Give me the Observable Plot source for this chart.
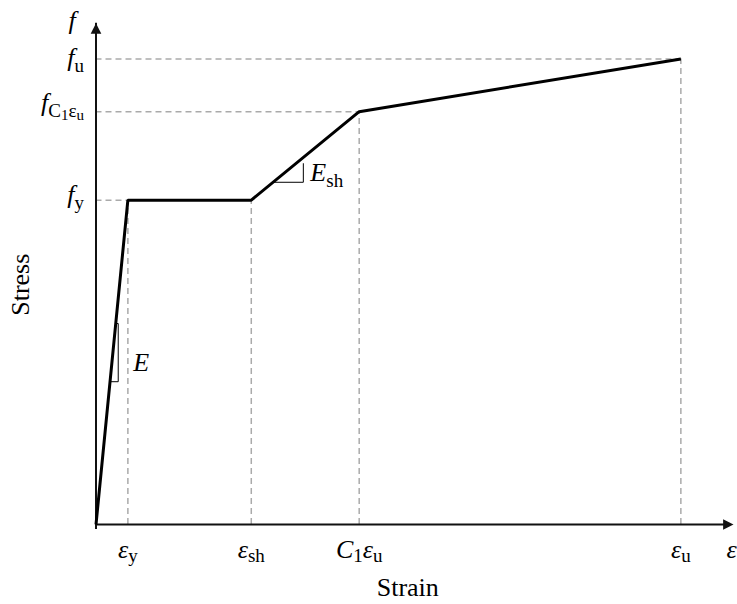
<!DOCTYPE html>
<html><head><meta charset="utf-8">
<script src="https://cdn.jsdelivr.net/npm/d3@7"></script>
<script src="https://cdn.jsdelivr.net/npm/@observablehq/plot@0.6"></script>
<style>body{margin:0;background:#fff} svg{display:block}</style>
</head><body><div id="chart"></div>
<script>
// Key points of the stress-strain curve (arbitrary units)
const pointStrain = [0, 0.0109, 0.0531, 0.090, 0.200];
const pointStress = [0, 418, 418, 532, 600];
// Ticks on the strain axis (index into the key points) and their labels
const strainTickIndex = [1, 2, 3, 4];
const strainTickLabels = ["εy", "εsh", "C1εu", "εu"];
// Ticks on the stress axis
const stressTickIndex = [1, 3, 4];
const stressTickLabels = ["fy", "fC1εu", "fu"];
// Axis extents
const strainMax = 0.218;
const stressMax = 646;
// Slope indicators
const eTriangle = {strain: 0.0076, stressLow: 184, stressHigh: 259};
const eshTriangle = {strain: 0.0709, stressLow: 441, stressHigh: 465};
const slopeLabels = [
  {strain: 0.0127, stress: 208, text: "E"},
  {strain: 0.0733, stress: 454, text: "Esh"}
];
const axisTitles = {x: "Strain", y: "Stress", xSym: "ε", ySym: "f"};

// rich text parts: [text, italic, level]
const rich = {
  "εy": [["ε",1,0],["y",0,1]],
  "εsh": [["ε",1,0],["sh",0,1]],
  "C1εu": [["C",1,0],["1",0,1],["ε",1,0],["u",0,1]],
  "εu": [["ε",1,0],["u",0,1]],
  "fy": [["f",1,0],["y",0,3]],
  "fC1εu": [["f",1,0],["C",0,3],["1",0,4],["ε",0,3],["u",0,4]],
  "fu": [["f",1,0],["u",0,3]],
  "E": [["E",1,0]],
  "Esh": [["E",1,0],["sh",0,3]],
  "ε": [["ε",1,0]],
  "f": [["f",1,0]]
};
// levels: 0 main, 1 low subscript (x labels), 2 unused, 3 subscript, 4 sub-subscript
const levelSize = [26, 19, 19, 19, 15];
const levelShift = [0, 4, 4, 6, 9];

const font = "Liberation Serif, Times New Roman, serif";
const curve = pointStrain.map((s, i) => ({strain: s, stress: pointStress[i]}));
const lineStrainAt = (stress) => {
  for (let i = 1; i < curve.length; i++) {
    const a = curve[i-1], b = curve[i];
    if (stress >= a.stress && stress <= b.stress && b.stress > a.stress)
      return a.strain + (stress - a.stress) / (b.stress - a.stress) * (b.strain - a.strain);
  }
  return 0;
};
const strainTicks = strainTickIndex.map((k, i) => ({strain: curve[k].strain, stress: curve[k].stress, label: strainTickLabels[i]}));
const stressTicks = stressTickIndex.map((k, i) => ({strain: curve[k].strain, stress: curve[k].stress, label: stressTickLabels[i]}));

const eTri = [
  {strain: lineStrainAt(eTriangle.stressHigh), stress: eTriangle.stressHigh},
  {strain: eTriangle.strain, stress: eTriangle.stressHigh},
  {strain: eTriangle.strain, stress: eTriangle.stressLow},
  {strain: lineStrainAt(eTriangle.stressLow), stress: eTriangle.stressLow}
];
const eshTri = [
  {strain: lineStrainAt(eshTriangle.stressLow), stress: eshTriangle.stressLow},
  {strain: eshTriangle.strain, stress: eshTriangle.stressLow},
  {strain: eshTriangle.strain, stress: eshTriangle.stressHigh}
];

const arrowUp = {draw(ctx, size) { const r = Math.sqrt(size / Math.PI); ctx.moveTo(0, -r); ctx.lineTo(r, r); ctx.lineTo(-r, r); ctx.closePath(); }};
const arrowRight = {draw(ctx, size) { const r = Math.sqrt(size / Math.PI); ctx.moveTo(r, 0); ctx.lineTo(-r, r); ctx.lineTo(-r, -r); ctx.closePath(); }};

const dash = {stroke: "#aaaaaa", strokeWidth: 1.5, strokeDasharray: "6,4"};
const yTickDy = {"fu": -0.8, "fC1εu": -9.3, "fy": -5};
const stressTitleAt = 309;

const chart = Plot.plot({
  width: 737, height: 604,
  marginLeft: 95.5, marginRight: 4, marginTop: 22.7, marginBottom: 80,
  x: {domain: [0, strainMax], axis: null},
  y: {domain: [0, stressMax], axis: null},
  style: {fontFamily: font, background: "white"},
  marks: [
    Plot.ruleX(strainTicks, {x: "strain", y1: 0, y2: "stress", ...dash}),
    Plot.ruleY(stressTicks, {y: "stress", x1: 0, x2: "strain", ...dash}),
    Plot.ruleY([0], {x1: 0, x2: strainMax, stroke: "#111", strokeWidth: 2, insetRight: 5}),
    Plot.ruleX([0], {y1: 0, y2: stressMax, stroke: "#111", strokeWidth: 2, insetTop: 5}),
    Plot.dot([0], {x: strainMax, y: 0, symbol: arrowRight, r: 5.2, dx: -5.2, fill: "#111", stroke: "none"}),
    Plot.dot([0], {x: 0, y: stressMax, symbol: arrowUp, r: 5.3, dy: 5.3, fill: "#111", stroke: "none"}),
    Plot.line(eTri, {x: "strain", y: "stress", stroke: "black", strokeWidth: 1}),
    Plot.line(eshTri, {x: "strain", y: "stress", stroke: "black", strokeWidth: 1}),
    Plot.line(curve, {x: "strain", y: "stress", stroke: "black", strokeWidth: 3, strokeLinejoin: "miter", strokeLinecap: "butt"}),
    Plot.text(strainTicks, {x: "strain", y: 0, text: "label", dy: 24.7, fontSize: 26, textAnchor: "middle"}),
    ...stressTicks.map(t => Plot.text([t], {x: 0, y: "stress", text: "label", dx: -12, dy: yTickDy[t.label], fontSize: 26, textAnchor: "end"})),
    Plot.text(slopeLabels, {x: "strain", y: "stress", text: "text", fontSize: 26, textAnchor: "start"}),
    Plot.text([axisTitles.xSym], {x: strainMax, y: 0, text: d => d, dx: -7, dy: 24.7, fontSize: 26, textAnchor: "start"}),
    Plot.text([axisTitles.ySym], {x: 0, y: stressMax, text: d => d, dx: -24, dy: -3, fontSize: 26, textAnchor: "middle"}),
    Plot.text([axisTitles.x], {frameAnchor: "bottom", lineAnchor: "middle", text: d => d, dx: -7, dy: 63, fontSize: 26}),
    Plot.text([axisTitles.y], {x: 0, y: stressTitleAt, text: d => d, dx: -75, rotate: -90, fontSize: 26})
  ]
});

const NS = "http://www.w3.org/2000/svg";
chart.querySelectorAll("text").forEach(el => {
  const parts = rich[el.textContent];
  if (!parts) return;
  el.textContent = "";
  let cur = 0;
  for (const [t, it, lvl] of parts) {
    const ts = document.createElementNS(NS, "tspan");
    const off = levelShift[lvl];
    if (off !== cur) ts.setAttribute("dy", off - cur);
    cur = off;
    ts.setAttribute("font-size", levelSize[lvl]);
    ts.setAttribute("font-style", it ? "italic" : "normal");
    ts.textContent = t;
    el.appendChild(ts);
  }
});
document.getElementById("chart").appendChild(chart);
</script>
</body></html>
